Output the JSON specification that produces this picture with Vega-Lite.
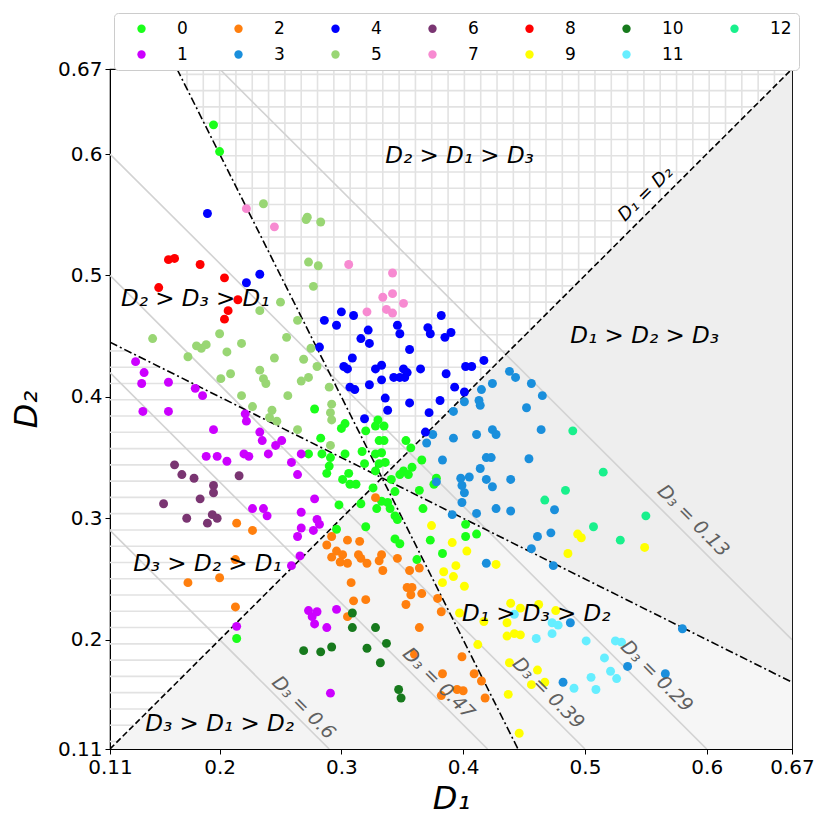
{
  "$schema": "https://vega.github.io/schema/vega-lite/v6.json",
  "width": 682,
  "height": 680,
  "padding": {"left": 10, "top": 12, "right": 5, "bottom": 5},
  "background": "white",
  "config": {
    "view": {"stroke": "black", "strokeWidth": 1.2},
    "font": "DejaVu Sans"
  },
  "datasets": {
    "stars": [
      {"x": 0.3333, "y": 0.3333, "y2": 0.3333},
      {"x": 0.67, "y": 0.165, "y2": 0.67}
    ],
    "dots": [
      {"x": 0.3333, "y": 0.3333, "y2": 0.3333},
      {"x": 0.445, "y": 0.11, "y2": 0.2775},
      {"x": 0.67, "y": 0.11, "y2": 0.165}
    ],
    "circles": [
      {"x": 0.11, "y": 0.11, "y2": 0.11},
      {"x": 0.3333, "y": 0.11, "y2": 0.3333},
      {"x": 0.445, "y": 0.11, "y2": 0.11}
    ],
    "hv": [
      {"x": 0.1732, "y": 0.6536, "y2": 0.67}, {"x": 0.1866, "y": 0.6268, "y2": 0.67},
      {"x": 0.2000, "y": 0.6000, "y2": 0.67}, {"x": 0.2134, "y": 0.5732, "y2": 0.67},
      {"x": 0.2268, "y": 0.5464, "y2": 0.67}, {"x": 0.2402, "y": 0.5196, "y2": 0.67},
      {"x": 0.2536, "y": 0.4928, "y2": 0.67}, {"x": 0.2670, "y": 0.4660, "y2": 0.67},
      {"x": 0.2804, "y": 0.4392, "y2": 0.67}, {"x": 0.2938, "y": 0.4124, "y2": 0.67},
      {"x": 0.3072, "y": 0.3856, "y2": 0.67}, {"x": 0.3206, "y": 0.3588, "y2": 0.67},
      {"x": 0.3340, "y": 0.3340, "y2": 0.67}, {"x": 0.3474, "y": 0.3474, "y2": 0.67},
      {"x": 0.3608, "y": 0.3608, "y2": 0.67}, {"x": 0.3742, "y": 0.3742, "y2": 0.67},
      {"x": 0.3876, "y": 0.3876, "y2": 0.67}, {"x": 0.4010, "y": 0.4010, "y2": 0.67},
      {"x": 0.4144, "y": 0.4144, "y2": 0.67}, {"x": 0.4278, "y": 0.4278, "y2": 0.67},
      {"x": 0.4412, "y": 0.4412, "y2": 0.67}, {"x": 0.4546, "y": 0.4546, "y2": 0.67},
      {"x": 0.4680, "y": 0.4680, "y2": 0.67}, {"x": 0.4814, "y": 0.4814, "y2": 0.67},
      {"x": 0.4948, "y": 0.4948, "y2": 0.67}, {"x": 0.5082, "y": 0.5082, "y2": 0.67},
      {"x": 0.5216, "y": 0.5216, "y2": 0.67}, {"x": 0.5350, "y": 0.5350, "y2": 0.67},
      {"x": 0.5484, "y": 0.5484, "y2": 0.67}, {"x": 0.5618, "y": 0.5618, "y2": 0.67},
      {"x": 0.5752, "y": 0.5752, "y2": 0.67}, {"x": 0.5886, "y": 0.5886, "y2": 0.67},
      {"x": 0.6020, "y": 0.6020, "y2": 0.67}, {"x": 0.6154, "y": 0.6154, "y2": 0.67},
      {"x": 0.6288, "y": 0.6288, "y2": 0.67}, {"x": 0.6422, "y": 0.6422, "y2": 0.67},
      {"x": 0.6556, "y": 0.6556, "y2": 0.67}
    ],
    "hh": [
      {"y": 0.6656, "x": 0.1672, "x2": 0.6656}, {"y": 0.6522, "x": 0.1739, "x2": 0.6522},
      {"y": 0.6388, "x": 0.1806, "x2": 0.6388}, {"y": 0.6254, "x": 0.1873, "x2": 0.6254},
      {"y": 0.6120, "x": 0.1940, "x2": 0.6120}, {"y": 0.5986, "x": 0.2007, "x2": 0.5986},
      {"y": 0.5852, "x": 0.2074, "x2": 0.5852}, {"y": 0.5718, "x": 0.2141, "x2": 0.5718},
      {"y": 0.5584, "x": 0.2208, "x2": 0.5584}, {"y": 0.5450, "x": 0.2275, "x2": 0.5450},
      {"y": 0.5316, "x": 0.2342, "x2": 0.5316}, {"y": 0.5182, "x": 0.2409, "x2": 0.5182},
      {"y": 0.5048, "x": 0.2476, "x2": 0.5048}, {"y": 0.4914, "x": 0.2543, "x2": 0.4914},
      {"y": 0.4780, "x": 0.2610, "x2": 0.4780}, {"y": 0.4646, "x": 0.2677, "x2": 0.4646},
      {"y": 0.4512, "x": 0.2744, "x2": 0.4512}, {"y": 0.4378, "x": 0.2811, "x2": 0.4378},
      {"y": 0.4244, "x": 0.2878, "x2": 0.4244}, {"y": 0.4110, "x": 0.2945, "x2": 0.4110},
      {"y": 0.3976, "x": 0.3012, "x2": 0.3976}, {"y": 0.3842, "x": 0.3079, "x2": 0.3842},
      {"y": 0.3708, "x": 0.3146, "x2": 0.3708}, {"y": 0.3574, "x": 0.3213, "x2": 0.3574},
      {"y": 0.3440, "x": 0.3280, "x2": 0.3440},
      {"y": 0.4378, "x": 0.11, "x2": 0.1244}, {"y": 0.4244, "x": 0.11, "x2": 0.1512},
      {"y": 0.4110, "x": 0.11, "x2": 0.1780}, {"y": 0.3976, "x": 0.11, "x2": 0.2048},
      {"y": 0.3842, "x": 0.11, "x2": 0.2316}, {"y": 0.3708, "x": 0.11, "x2": 0.2584},
      {"y": 0.3574, "x": 0.11, "x2": 0.2852}, {"y": 0.3440, "x": 0.11, "x2": 0.3120},
      {"y": 0.3306, "x": 0.11, "x2": 0.3306}, {"y": 0.3172, "x": 0.11, "x2": 0.3172},
      {"y": 0.3038, "x": 0.11, "x2": 0.3038}, {"y": 0.2904, "x": 0.11, "x2": 0.2904},
      {"y": 0.2770, "x": 0.11, "x2": 0.2770}, {"y": 0.2636, "x": 0.11, "x2": 0.2636},
      {"y": 0.2502, "x": 0.11, "x2": 0.2502}, {"y": 0.2368, "x": 0.11, "x2": 0.2368},
      {"y": 0.2234, "x": 0.11, "x2": 0.2234}, {"y": 0.2100, "x": 0.11, "x2": 0.2100},
      {"y": 0.1966, "x": 0.11, "x2": 0.1966}, {"y": 0.1832, "x": 0.11, "x2": 0.1832},
      {"y": 0.1698, "x": 0.11, "x2": 0.1698}, {"y": 0.1564, "x": 0.11, "x2": 0.1564},
      {"y": 0.1430, "x": 0.11, "x2": 0.1430}, {"y": 0.1296, "x": 0.11, "x2": 0.1296},
      {"y": 0.1162, "x": 0.11, "x2": 0.1162}
    ],
    "d3lines": [
      {"d3": 0.13, "x": 0.20, "y": 0.67, "x2": 0.67, "y2": 0.20},
      {"d3": 0.29, "x": 0.11, "y": 0.60, "x2": 0.60, "y2": 0.11},
      {"d3": 0.39, "x": 0.11, "y": 0.50, "x2": 0.50, "y2": 0.11},
      {"d3": 0.47, "x": 0.11, "y": 0.42, "x2": 0.42, "y2": 0.11},
      {"d3": 0.6, "x": 0.11, "y": 0.29, "x2": 0.29, "y2": 0.11}
    ],
    "dashline": [
      {"x": 0.11, "y": 0.11, "x2": 0.67, "y2": 0.67}
    ],
    "dashdot": [
      {"x": 0.165, "y": 0.67, "x2": 0.445, "y2": 0.11},
      {"x": 0.11, "y": 0.445, "x2": 0.67, "y2": 0.165}
    ],
    "regions": [
      {"t": "D₂ > D₁ > D₃", "x": 0.397, "y": 0.598},
      {"t": "D₂ > D₃ > D₁", "x": 0.180, "y": 0.481},
      {"t": "D₁ > D₂ > D₃", "x": 0.549, "y": 0.450},
      {"t": "D₃ > D₂ > D₁", "x": 0.190, "y": 0.262},
      {"t": "D₁ > D₃ > D₂", "x": 0.460, "y": 0.221},
      {"t": "D₃ > D₁ > D₂", "x": 0.200, "y": 0.131}
    ],
    "d3labels": [
      {"t": "D₃ = 0.13", "x": 0.589, "y": 0.298},
      {"t": "D₃ = 0.29", "x": 0.559, "y": 0.170},
      {"t": "D₃ = 0.39", "x": 0.470, "y": 0.156},
      {"t": "D₃ = 0.47", "x": 0.380, "y": 0.164},
      {"t": "D₃ = 0.6", "x": 0.269, "y": 0.144}
    ],
    "eqlabel": [
      {"t": "D₁ = D₂", "x": 0.550, "y": 0.567}
    ],
    "pts": [
      {"c": "0", "x": 0.195, "y": 0.624}, {"c": "0", "x": 0.200, "y": 0.602},
      {"c": "0", "x": 0.278, "y": 0.390}, {"c": "0", "x": 0.300, "y": 0.374},
      {"c": "0", "x": 0.303, "y": 0.378}, {"c": "0", "x": 0.283, "y": 0.366},
      {"c": "0", "x": 0.320, "y": 0.372}, {"c": "0", "x": 0.330, "y": 0.381},
      {"c": "0", "x": 0.328, "y": 0.376}, {"c": "0", "x": 0.335, "y": 0.376},
      {"c": "0", "x": 0.331, "y": 0.364}, {"c": "0", "x": 0.335, "y": 0.364},
      {"c": "0", "x": 0.353, "y": 0.364}, {"c": "0", "x": 0.357, "y": 0.358},
      {"c": "0", "x": 0.273, "y": 0.353}, {"c": "0", "x": 0.284, "y": 0.353},
      {"c": "0", "x": 0.291, "y": 0.350}, {"c": "0", "x": 0.303, "y": 0.353},
      {"c": "0", "x": 0.317, "y": 0.355}, {"c": "0", "x": 0.328, "y": 0.353},
      {"c": "0", "x": 0.333, "y": 0.354}, {"c": "0", "x": 0.319, "y": 0.345},
      {"c": "0", "x": 0.331, "y": 0.345}, {"c": "0", "x": 0.336, "y": 0.346},
      {"c": "0", "x": 0.290, "y": 0.343}, {"c": "0", "x": 0.288, "y": 0.337},
      {"c": "0", "x": 0.306, "y": 0.337}, {"c": "0", "x": 0.328, "y": 0.339},
      {"c": "0", "x": 0.351, "y": 0.339}, {"c": "0", "x": 0.358, "y": 0.342},
      {"c": "0", "x": 0.366, "y": 0.348}, {"c": "0", "x": 0.301, "y": 0.332},
      {"c": "0", "x": 0.307, "y": 0.328}, {"c": "0", "x": 0.312, "y": 0.328},
      {"c": "0", "x": 0.341, "y": 0.332}, {"c": "0", "x": 0.348, "y": 0.336},
      {"c": "0", "x": 0.355, "y": 0.336}, {"c": "0", "x": 0.364, "y": 0.323},
      {"c": "0", "x": 0.376, "y": 0.328}, {"c": "0", "x": 0.326, "y": 0.325},
      {"c": "0", "x": 0.344, "y": 0.322}, {"c": "0", "x": 0.298, "y": 0.311},
      {"c": "0", "x": 0.316, "y": 0.312}, {"c": "0", "x": 0.333, "y": 0.314},
      {"c": "0", "x": 0.338, "y": 0.313}, {"c": "0", "x": 0.329, "y": 0.308},
      {"c": "0", "x": 0.340, "y": 0.308}, {"c": "0", "x": 0.344, "y": 0.302},
      {"c": "0", "x": 0.346, "y": 0.299}, {"c": "0", "x": 0.320, "y": 0.293},
      {"c": "0", "x": 0.296, "y": 0.291}, {"c": "0", "x": 0.367, "y": 0.308},
      {"c": "0", "x": 0.344, "y": 0.283}, {"c": "0", "x": 0.348, "y": 0.279},
      {"c": "0", "x": 0.373, "y": 0.282}, {"c": "0", "x": 0.383, "y": 0.271},
      {"c": "0", "x": 0.362, "y": 0.266}, {"c": "0", "x": 0.402, "y": 0.295},
      {"c": "0", "x": 0.402, "y": 0.285}, {"c": "0", "x": 0.411, "y": 0.287},
      {"c": "0", "x": 0.378, "y": 0.333}, {"c": "0", "x": 0.214, "y": 0.201},

      {"c": "1", "x": 0.131, "y": 0.429}, {"c": "1", "x": 0.138, "y": 0.420},
      {"c": "1", "x": 0.136, "y": 0.411}, {"c": "1", "x": 0.158, "y": 0.412},
      {"c": "1", "x": 0.180, "y": 0.407}, {"c": "1", "x": 0.186, "y": 0.401},
      {"c": "1", "x": 0.137, "y": 0.388}, {"c": "1", "x": 0.158, "y": 0.388},
      {"c": "1", "x": 0.221, "y": 0.386}, {"c": "1", "x": 0.222, "y": 0.380},
      {"c": "1", "x": 0.195, "y": 0.373}, {"c": "1", "x": 0.233, "y": 0.371},
      {"c": "1", "x": 0.235, "y": 0.364}, {"c": "1", "x": 0.251, "y": 0.364},
      {"c": "1", "x": 0.246, "y": 0.360}, {"c": "1", "x": 0.189, "y": 0.351},
      {"c": "1", "x": 0.198, "y": 0.351}, {"c": "1", "x": 0.206, "y": 0.347},
      {"c": "1", "x": 0.220, "y": 0.353}, {"c": "1", "x": 0.224, "y": 0.351},
      {"c": "1", "x": 0.240, "y": 0.353}, {"c": "1", "x": 0.267, "y": 0.353},
      {"c": "1", "x": 0.259, "y": 0.346}, {"c": "1", "x": 0.264, "y": 0.336},
      {"c": "1", "x": 0.278, "y": 0.316}, {"c": "1", "x": 0.227, "y": 0.308},
      {"c": "1", "x": 0.236, "y": 0.308}, {"c": "1", "x": 0.239, "y": 0.302},
      {"c": "1", "x": 0.267, "y": 0.305}, {"c": "1", "x": 0.280, "y": 0.299},
      {"c": "1", "x": 0.282, "y": 0.295}, {"c": "1", "x": 0.277, "y": 0.290},
      {"c": "1", "x": 0.267, "y": 0.292}, {"c": "1", "x": 0.264, "y": 0.285},
      {"c": "1", "x": 0.266, "y": 0.269}, {"c": "1", "x": 0.259, "y": 0.261},
      {"c": "1", "x": 0.273, "y": 0.224}, {"c": "1", "x": 0.280, "y": 0.223},
      {"c": "1", "x": 0.276, "y": 0.219}, {"c": "1", "x": 0.278, "y": 0.213},
      {"c": "1", "x": 0.288, "y": 0.210}, {"c": "1", "x": 0.296, "y": 0.225},
      {"c": "1", "x": 0.291, "y": 0.156}, {"c": "1", "x": 0.214, "y": 0.211},

      {"c": "2", "x": 0.214, "y": 0.296}, {"c": "2", "x": 0.227, "y": 0.290},
      {"c": "2", "x": 0.213, "y": 0.266}, {"c": "2", "x": 0.174, "y": 0.247},
      {"c": "2", "x": 0.200, "y": 0.251}, {"c": "2", "x": 0.328, "y": 0.317},
      {"c": "2", "x": 0.213, "y": 0.227}, {"c": "2", "x": 0.292, "y": 0.285},
      {"c": "2", "x": 0.305, "y": 0.282}, {"c": "2", "x": 0.315, "y": 0.281},
      {"c": "2", "x": 0.288, "y": 0.278}, {"c": "2", "x": 0.296, "y": 0.273},
      {"c": "2", "x": 0.301, "y": 0.270}, {"c": "2", "x": 0.292, "y": 0.268},
      {"c": "2", "x": 0.299, "y": 0.264}, {"c": "2", "x": 0.305, "y": 0.263},
      {"c": "2", "x": 0.314, "y": 0.270}, {"c": "2", "x": 0.316, "y": 0.267},
      {"c": "2", "x": 0.321, "y": 0.263}, {"c": "2", "x": 0.331, "y": 0.265},
      {"c": "2", "x": 0.333, "y": 0.270}, {"c": "2", "x": 0.334, "y": 0.257},
      {"c": "2", "x": 0.346, "y": 0.267}, {"c": "2", "x": 0.308, "y": 0.247},
      {"c": "2", "x": 0.310, "y": 0.232}, {"c": "2", "x": 0.320, "y": 0.233},
      {"c": "2", "x": 0.305, "y": 0.219}, {"c": "2", "x": 0.356, "y": 0.257},
      {"c": "2", "x": 0.364, "y": 0.259}, {"c": "2", "x": 0.354, "y": 0.243},
      {"c": "2", "x": 0.358, "y": 0.243}, {"c": "2", "x": 0.357, "y": 0.237},
      {"c": "2", "x": 0.353, "y": 0.229}, {"c": "2", "x": 0.366, "y": 0.238},
      {"c": "2", "x": 0.379, "y": 0.234}, {"c": "2", "x": 0.382, "y": 0.223},
      {"c": "2", "x": 0.364, "y": 0.210}, {"c": "2", "x": 0.360, "y": 0.188},
      {"c": "2", "x": 0.399, "y": 0.186}, {"c": "2", "x": 0.383, "y": 0.172},
      {"c": "2", "x": 0.409, "y": 0.172}, {"c": "2", "x": 0.415, "y": 0.166},
      {"c": "2", "x": 0.395, "y": 0.159}, {"c": "2", "x": 0.382, "y": 0.154},
      {"c": "2", "x": 0.418, "y": 0.152}, {"c": "2", "x": 0.400, "y": 0.158},

      {"c": "3", "x": 0.438, "y": 0.421}, {"c": "3", "x": 0.443, "y": 0.416},
      {"c": "3", "x": 0.424, "y": 0.411}, {"c": "3", "x": 0.415, "y": 0.406},
      {"c": "3", "x": 0.456, "y": 0.411}, {"c": "3", "x": 0.465, "y": 0.401},
      {"c": "3", "x": 0.401, "y": 0.396}, {"c": "3", "x": 0.413, "y": 0.397},
      {"c": "3", "x": 0.414, "y": 0.393}, {"c": "3", "x": 0.452, "y": 0.391},
      {"c": "3", "x": 0.392, "y": 0.388}, {"c": "3", "x": 0.375, "y": 0.369},
      {"c": "3", "x": 0.370, "y": 0.362}, {"c": "3", "x": 0.392, "y": 0.366},
      {"c": "3", "x": 0.411, "y": 0.369}, {"c": "3", "x": 0.424, "y": 0.373},
      {"c": "3", "x": 0.427, "y": 0.369}, {"c": "3", "x": 0.464, "y": 0.373},
      {"c": "3", "x": 0.383, "y": 0.348}, {"c": "3", "x": 0.414, "y": 0.341},
      {"c": "3", "x": 0.419, "y": 0.350}, {"c": "3", "x": 0.423, "y": 0.350},
      {"c": "3", "x": 0.454, "y": 0.349}, {"c": "3", "x": 0.398, "y": 0.333},
      {"c": "3", "x": 0.405, "y": 0.334}, {"c": "3", "x": 0.399, "y": 0.327},
      {"c": "3", "x": 0.401, "y": 0.321}, {"c": "3", "x": 0.419, "y": 0.332},
      {"c": "3", "x": 0.424, "y": 0.326}, {"c": "3", "x": 0.439, "y": 0.332},
      {"c": "3", "x": 0.378, "y": 0.330}, {"c": "3", "x": 0.399, "y": 0.313},
      {"c": "3", "x": 0.411, "y": 0.304}, {"c": "3", "x": 0.427, "y": 0.308},
      {"c": "3", "x": 0.439, "y": 0.306}, {"c": "3", "x": 0.475, "y": 0.307},
      {"c": "3", "x": 0.391, "y": 0.303}, {"c": "3", "x": 0.461, "y": 0.285},
      {"c": "3", "x": 0.472, "y": 0.288}, {"c": "3", "x": 0.456, "y": 0.275},
      {"c": "3", "x": 0.419, "y": 0.263}, {"c": "3", "x": 0.474, "y": 0.261},
      {"c": "3", "x": 0.488, "y": 0.214}, {"c": "3", "x": 0.580, "y": 0.209},
      {"c": "3", "x": 0.535, "y": 0.178}, {"c": "3", "x": 0.566, "y": 0.172},
      {"c": "3", "x": 0.482, "y": 0.165},

      {"c": "4", "x": 0.190, "y": 0.551}, {"c": "4", "x": 0.233, "y": 0.501},
      {"c": "4", "x": 0.222, "y": 0.494}, {"c": "4", "x": 0.282, "y": 0.441},
      {"c": "4", "x": 0.300, "y": 0.470}, {"c": "4", "x": 0.310, "y": 0.467},
      {"c": "4", "x": 0.286, "y": 0.463}, {"c": "4", "x": 0.296, "y": 0.459},
      {"c": "4", "x": 0.322, "y": 0.455}, {"c": "4", "x": 0.316, "y": 0.448},
      {"c": "4", "x": 0.323, "y": 0.444}, {"c": "4", "x": 0.346, "y": 0.459},
      {"c": "4", "x": 0.348, "y": 0.452}, {"c": "4", "x": 0.371, "y": 0.457},
      {"c": "4", "x": 0.373, "y": 0.452}, {"c": "4", "x": 0.382, "y": 0.467},
      {"c": "4", "x": 0.385, "y": 0.449}, {"c": "4", "x": 0.390, "y": 0.453},
      {"c": "4", "x": 0.356, "y": 0.439}, {"c": "4", "x": 0.309, "y": 0.432},
      {"c": "4", "x": 0.302, "y": 0.425}, {"c": "4", "x": 0.305, "y": 0.423},
      {"c": "4", "x": 0.328, "y": 0.423}, {"c": "4", "x": 0.333, "y": 0.426},
      {"c": "4", "x": 0.351, "y": 0.423}, {"c": "4", "x": 0.354, "y": 0.420},
      {"c": "4", "x": 0.352, "y": 0.416}, {"c": "4", "x": 0.348, "y": 0.416},
      {"c": "4", "x": 0.343, "y": 0.416}, {"c": "4", "x": 0.365, "y": 0.423},
      {"c": "4", "x": 0.386, "y": 0.419}, {"c": "4", "x": 0.402, "y": 0.425},
      {"c": "4", "x": 0.407, "y": 0.425}, {"c": "4", "x": 0.417, "y": 0.430},
      {"c": "4", "x": 0.333, "y": 0.414}, {"c": "4", "x": 0.323, "y": 0.410},
      {"c": "4", "x": 0.307, "y": 0.408}, {"c": "4", "x": 0.311, "y": 0.406},
      {"c": "4", "x": 0.393, "y": 0.408}, {"c": "4", "x": 0.401, "y": 0.404},
      {"c": "4", "x": 0.336, "y": 0.399}, {"c": "4", "x": 0.356, "y": 0.395},
      {"c": "4", "x": 0.381, "y": 0.397}, {"c": "4", "x": 0.338, "y": 0.389},
      {"c": "4", "x": 0.372, "y": 0.387}, {"c": "4", "x": 0.319, "y": 0.382},
      {"c": "4", "x": 0.369, "y": 0.371},

      {"c": "5", "x": 0.236, "y": 0.559}, {"c": "5", "x": 0.272, "y": 0.548},
      {"c": "5", "x": 0.271, "y": 0.546}, {"c": "5", "x": 0.283, "y": 0.544},
      {"c": "5", "x": 0.273, "y": 0.511}, {"c": "5", "x": 0.281, "y": 0.508},
      {"c": "5", "x": 0.277, "y": 0.491}, {"c": "5", "x": 0.250, "y": 0.478},
      {"c": "5", "x": 0.233, "y": 0.471}, {"c": "5", "x": 0.264, "y": 0.463},
      {"c": "5", "x": 0.255, "y": 0.449}, {"c": "5", "x": 0.145, "y": 0.448},
      {"c": "5", "x": 0.200, "y": 0.452}, {"c": "5", "x": 0.218, "y": 0.444},
      {"c": "5", "x": 0.181, "y": 0.442}, {"c": "5", "x": 0.189, "y": 0.443},
      {"c": "5", "x": 0.185, "y": 0.440}, {"c": "5", "x": 0.206, "y": 0.437},
      {"c": "5", "x": 0.174, "y": 0.433}, {"c": "5", "x": 0.245, "y": 0.432},
      {"c": "5", "x": 0.269, "y": 0.431}, {"c": "5", "x": 0.275, "y": 0.440},
      {"c": "5", "x": 0.233, "y": 0.422}, {"c": "5", "x": 0.236, "y": 0.415},
      {"c": "5", "x": 0.238, "y": 0.411}, {"c": "5", "x": 0.201, "y": 0.415},
      {"c": "5", "x": 0.209, "y": 0.419}, {"c": "5", "x": 0.267, "y": 0.413},
      {"c": "5", "x": 0.273, "y": 0.416}, {"c": "5", "x": 0.280, "y": 0.425},
      {"c": "5", "x": 0.218, "y": 0.401}, {"c": "5", "x": 0.227, "y": 0.392},
      {"c": "5", "x": 0.243, "y": 0.389}, {"c": "5", "x": 0.241, "y": 0.383},
      {"c": "5", "x": 0.247, "y": 0.380}, {"c": "5", "x": 0.256, "y": 0.401},
      {"c": "5", "x": 0.264, "y": 0.373}, {"c": "5", "x": 0.290, "y": 0.408},
      {"c": "5", "x": 0.292, "y": 0.394}, {"c": "5", "x": 0.291, "y": 0.387},
      {"c": "5", "x": 0.292, "y": 0.381}, {"c": "5", "x": 0.291, "y": 0.360},

      {"c": "6", "x": 0.163, "y": 0.344}, {"c": "6", "x": 0.169, "y": 0.336},
      {"c": "6", "x": 0.179, "y": 0.333}, {"c": "6", "x": 0.216, "y": 0.335},
      {"c": "6", "x": 0.195, "y": 0.327}, {"c": "6", "x": 0.195, "y": 0.321},
      {"c": "6", "x": 0.154, "y": 0.312}, {"c": "6", "x": 0.184, "y": 0.316},
      {"c": "6", "x": 0.173, "y": 0.300}, {"c": "6", "x": 0.194, "y": 0.303},
      {"c": "6", "x": 0.198, "y": 0.300}, {"c": "6", "x": 0.190, "y": 0.296},

      {"c": "7", "x": 0.222, "y": 0.555}, {"c": "7", "x": 0.245, "y": 0.540},
      {"c": "7", "x": 0.306, "y": 0.509}, {"c": "7", "x": 0.342, "y": 0.502},
      {"c": "7", "x": 0.334, "y": 0.482}, {"c": "7", "x": 0.342, "y": 0.485},
      {"c": "7", "x": 0.351, "y": 0.477}, {"c": "7", "x": 0.337, "y": 0.472},
      {"c": "7", "x": 0.342, "y": 0.469}, {"c": "7", "x": 0.321, "y": 0.470},

      {"c": "8", "x": 0.158, "y": 0.513}, {"c": "8", "x": 0.163, "y": 0.514},
      {"c": "8", "x": 0.184, "y": 0.509}, {"c": "8", "x": 0.204, "y": 0.498},
      {"c": "8", "x": 0.150, "y": 0.490}, {"c": "8", "x": 0.215, "y": 0.480},
      {"c": "8", "x": 0.207, "y": 0.471}, {"c": "8", "x": 0.204, "y": 0.464},

      {"c": "9", "x": 0.374, "y": 0.294}, {"c": "9", "x": 0.391, "y": 0.280},
      {"c": "9", "x": 0.403, "y": 0.273}, {"c": "9", "x": 0.394, "y": 0.261},
      {"c": "9", "x": 0.427, "y": 0.262}, {"c": "9", "x": 0.384, "y": 0.256},
      {"c": "9", "x": 0.392, "y": 0.252}, {"c": "9", "x": 0.383, "y": 0.247},
      {"c": "9", "x": 0.401, "y": 0.244}, {"c": "9", "x": 0.494, "y": 0.287},
      {"c": "9", "x": 0.497, "y": 0.284}, {"c": "9", "x": 0.486, "y": 0.271},
      {"c": "9", "x": 0.549, "y": 0.276}, {"c": "9", "x": 0.439, "y": 0.230},
      {"c": "9", "x": 0.447, "y": 0.226}, {"c": "9", "x": 0.462, "y": 0.229},
      {"c": "9", "x": 0.476, "y": 0.224}, {"c": "9", "x": 0.397, "y": 0.222},
      {"c": "9", "x": 0.436, "y": 0.214}, {"c": "9", "x": 0.417, "y": 0.215},
      {"c": "9", "x": 0.436, "y": 0.203}, {"c": "9", "x": 0.442, "y": 0.205},
      {"c": "9", "x": 0.447, "y": 0.204}, {"c": "9", "x": 0.412, "y": 0.196},
      {"c": "9", "x": 0.438, "y": 0.181}, {"c": "9", "x": 0.461, "y": 0.175},
      {"c": "9", "x": 0.456, "y": 0.163}, {"c": "9", "x": 0.467, "y": 0.165},
      {"c": "9", "x": 0.437, "y": 0.155}, {"c": "9", "x": 0.446, "y": 0.123},

      {"c": "10", "x": 0.309, "y": 0.222}, {"c": "10", "x": 0.309, "y": 0.210},
      {"c": "10", "x": 0.328, "y": 0.210}, {"c": "10", "x": 0.337, "y": 0.197},
      {"c": "10", "x": 0.321, "y": 0.193}, {"c": "10", "x": 0.292, "y": 0.194},
      {"c": "10", "x": 0.283, "y": 0.190}, {"c": "10", "x": 0.269, "y": 0.191},
      {"c": "10", "x": 0.332, "y": 0.181}, {"c": "10", "x": 0.347, "y": 0.159},
      {"c": "10", "x": 0.349, "y": 0.152},

      {"c": "11", "x": 0.442, "y": 0.221}, {"c": "11", "x": 0.473, "y": 0.214},
      {"c": "11", "x": 0.478, "y": 0.212}, {"c": "11", "x": 0.473, "y": 0.205},
      {"c": "11", "x": 0.460, "y": 0.201}, {"c": "11", "x": 0.501, "y": 0.199},
      {"c": "11", "x": 0.525, "y": 0.199}, {"c": "11", "x": 0.530, "y": 0.198},
      {"c": "11", "x": 0.516, "y": 0.185}, {"c": "11", "x": 0.505, "y": 0.169},
      {"c": "11", "x": 0.509, "y": 0.159}, {"c": "11", "x": 0.521, "y": 0.174},
      {"c": "11", "x": 0.526, "y": 0.168}, {"c": "11", "x": 0.491, "y": 0.160},

      {"c": "12", "x": 0.490, "y": 0.372}, {"c": "12", "x": 0.515, "y": 0.338},
      {"c": "12", "x": 0.484, "y": 0.323}, {"c": "12", "x": 0.467, "y": 0.315},
      {"c": "12", "x": 0.507, "y": 0.293}, {"c": "12", "x": 0.529, "y": 0.282},
      {"c": "12", "x": 0.550, "y": 0.302}
    ]
  },
  "encoding": {
    "x": {
      "field": "x",
      "type": "quantitative",
      "title": "D₁",
      "scale": {"domain": [0.11, 0.67], "nice": false, "zero": false},
      "axis": {
        "values": [0.11, 0.2, 0.3, 0.4, 0.5, 0.6, 0.67],
        "format": ".2~f",
        "grid": false,
        "labelFlush": false,
        "labelOverlap": false,
        "labelFontSize": 20,
        "labelColor": "black",
        "labelPadding": 3,
        "tickSize": 5,
        "tickColor": "black",
        "domainColor": "black",
        "titleFontSize": 32,
        "titleFontStyle": "italic",
        "titleFontWeight": "normal",
        "titleColor": "black",
        "titlePadding": 6
      }
    },
    "y": {
      "field": "y",
      "type": "quantitative",
      "title": "D₂",
      "scale": {"domain": [0.11, 0.67], "nice": false, "zero": false},
      "axis": {
        "values": [0.11, 0.2, 0.3, 0.4, 0.5, 0.6, 0.67],
        "format": ".2~f",
        "grid": false,
        "labelFlush": false,
        "labelOverlap": false,
        "labelFontSize": 20,
        "labelColor": "black",
        "labelPadding": 3,
        "tickSize": 5,
        "tickColor": "black",
        "domainColor": "black",
        "titleFontSize": 32,
        "titleFontStyle": "italic",
        "titleFontWeight": "normal",
        "titleColor": "black",
        "titlePadding": 14
      }
    }
  },
  "layer": [
    {
      "data": {"name": "stars"},
      "mark": {"type": "area", "fill": "#eeeeee", "clip": true},
      "encoding": {"y2": {"field": "y2"}}
    },
    {
      "data": {"name": "dots"},
      "mark": {"type": "area", "fill": "#f6f6f6", "clip": true},
      "encoding": {"y2": {"field": "y2"}}
    },
    {
      "data": {"name": "circles"},
      "mark": {"type": "area", "fill": "#f4f4f4", "clip": true},
      "encoding": {"y2": {"field": "y2"}}
    },
    {
      "data": {"name": "hv"},
      "mark": {"type": "rule", "color": "#e2e2e2", "strokeWidth": 1.6, "clip": true},
      "encoding": {"y2": {"field": "y2"}}
    },
    {
      "data": {"name": "hh"},
      "mark": {"type": "rule", "color": "#e2e2e2", "strokeWidth": 1.6, "clip": true},
      "encoding": {"x2": {"field": "x2"}}
    },
    {
      "data": {"name": "d3lines"},
      "mark": {"type": "rule", "color": "#d2d2d2", "strokeWidth": 1.6, "clip": true},
      "encoding": {"x2": {"field": "x2"}, "y2": {"field": "y2"}}
    },
    {
      "data": {"name": "dashline"},
      "mark": {"type": "rule", "color": "black", "strokeWidth": 1.6, "strokeDash": [6, 3], "clip": true},
      "encoding": {"x2": {"field": "x2"}, "y2": {"field": "y2"}}
    },
    {
      "data": {"name": "dashdot"},
      "mark": {"type": "rule", "color": "black", "strokeWidth": 1.6, "strokeDash": [8, 3, 2, 3], "clip": true},
      "encoding": {"x2": {"field": "x2"}, "y2": {"field": "y2"}}
    },
    {
      "data": {"name": "pts"},
      "mark": {"type": "point", "filled": true, "shape": "circle", "size": 80, "opacity": 1, "strokeWidth": 0},
      "encoding": {
        "color": {
          "field": "c",
          "type": "nominal",
          "scale": {
            "domain": ["0", "2", "4", "6", "8", "10", "12", "1", "3", "5", "7", "9", "11"],
            "range": ["#1aff1a", "#ff7f0e", "#0000ff", "#7a3572", "#ff0000", "#177a1d", "#19f08c", "#cc00ff", "#1a8fdc", "#99d674", "#f78ad1", "#ffff00", "#66eeff"]
          },
          "legend": {
            "title": null,
            "orient": "none",
            "legendX": 4,
            "legendY": -56,
            "direction": "horizontal",
            "columns": 7,
            "symbolType": "circle",
            "symbolSize": 70,
            "symbolStrokeWidth": 0,
            "symbolOffset": 12,
            "labelFontSize": 17,
            "labelColor": "black",
            "labelOffset": 27,
            "columnPadding": 30,
            "rowPadding": 8,
            "padding": 7,
            "strokeColor": "#cccccc",
            "fillColor": "white",
            "cornerRadius": 4
          }
        }
      }
    },
    {
      "data": {"name": "regions"},
      "mark": {"type": "text", "fontSize": 23, "fontStyle": "italic", "color": "black", "align": "center", "baseline": "middle"},
      "encoding": {"text": {"field": "t"}}
    },
    {
      "data": {"name": "d3labels"},
      "mark": {"type": "text", "fontSize": 19, "fontStyle": "italic", "color": "#606060", "align": "center", "baseline": "middle", "angle": 45},
      "encoding": {"text": {"field": "t"}}
    },
    {
      "data": {"name": "eqlabel"},
      "mark": {"type": "text", "fontSize": 18, "fontStyle": "italic", "color": "black", "align": "center", "baseline": "middle", "angle": -45},
      "encoding": {"text": {"field": "t"}}
    }
  ]
}
